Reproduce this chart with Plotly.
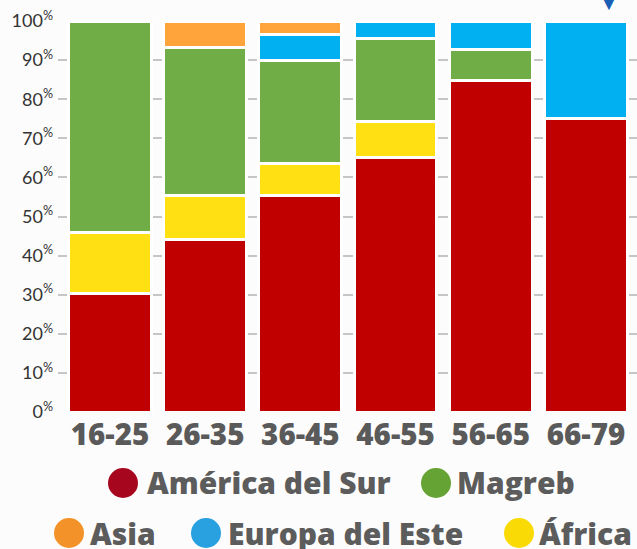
import plotly.graph_objects as go

categories = ["16-25", "26-35", "36-45", "46-55", "56-65", "66-79"]
america_sur = [30.3, 44.1, 55.5, 65.2, 84.7, 75.1]
africa = [15.5, 11.2, 8.1, 9.2, 0, 0]
magreb = [54.2, 37.8, 26.2, 21.2, 8.0, 0]
europa_este = [0, 0, 6.8, 4.4, 7.3, 24.9]
asia = [0, 6.9, 3.4, 0, 0, 0]
y_ticks = [0, 10, 20, 30, 40, 50, 60, 70, 80, 90, 100]

W, H = 637, 549
L, R, T, B = 58, 0, 21, 137
PW, PH = W - L - R, H - T - B

def px(x):
    return (x - L) / PW

def py(y):
    return (H - B - y) / PH

series = [
    ("América del Sur", america_sur, "#c00000"),
    ("África", africa, "#ffe013"),
    ("Magreb", magreb, "#70ad47"),
    ("Europa del Este", europa_este, "#00b0f0"),
    ("Asia", asia, "#ffa43a"),
]

fig = go.Figure()
for name, vals, col in series:
    fig.add_trace(go.Bar(
        x=categories, y=vals, name=name, showlegend=False,
        marker=dict(color=col, line=dict(color="white", width=3)),
    ))

legend_items = [
    ("América del Sur", "#a6071f", 123, 145, 483),
    ("Magreb", "#64a334", 436, 455, 483),
    ("Asia", "#f4922a", 69, 88, 533),
    ("Europa del Este", "#29a0e0", 206, 226, 533),
    ("África", "#f9da05", 519, 537, 533),
]
shapes = []
annotations = []
for name, col, cx, tx, cy in legend_items:
    shapes.append(dict(type="circle", xref="paper", yref="paper",
                       xsizemode="pixel", ysizemode="pixel",
                       xanchor=px(cx), yanchor=py(cy),
                       x0=-15, x1=15, y0=-15, y1=15,
                       fillcolor=col, line=dict(width=0)))
    annotations.append(dict(text=name, xref="paper", yref="paper",
                            x=px(tx), y=py(cy), xanchor="left", yanchor="middle",
                            showarrow=False,
                            font=dict(family="Open Sans", size=30, color="#5c5c5c", weight=800)))

annotations.append(dict(text="▼", xref="paper", yref="paper", x=px(609), y=py(0),
                        xanchor="center", yanchor="middle", showarrow=False,
                        font=dict(size=24, color="#1a5fb4")))

fig.update_layout(
    width=W, height=H,
    margin=dict(l=L, r=R, t=T, b=B),
    barmode="stack", bargap=0.13,
    paper_bgcolor="#fcfcfc", plot_bgcolor="#fcfcfc",
    showlegend=False,
    shapes=shapes, annotations=annotations,
    xaxis=dict(range=[-0.546, 5.536], showgrid=False, zeroline=False, showline=False,
               automargin=False, ticklabelstandoff=2,
               tickfont=dict(family="Open Sans", size=29.5, color="#5a5a5a", weight=800),
               ticks=""),
    yaxis=dict(range=[0, 100], tickvals=y_ticks, automargin=False,
               ticktext=[f"{v}<sup>%</sup>" for v in y_ticks],
               showgrid=True, gridcolor="#c6c6c6", gridwidth=1.5,
               zeroline=False, showline=False, ticks="", ticklabelstandoff=4,
               tickfont=dict(family="Lato", size=18, color="#333333")),
)

fig.write_html("out.html", config={"displayModeBar": False},
               post_script="document.body.style.margin='0';document.body.style.background='#fcfcfc';")
